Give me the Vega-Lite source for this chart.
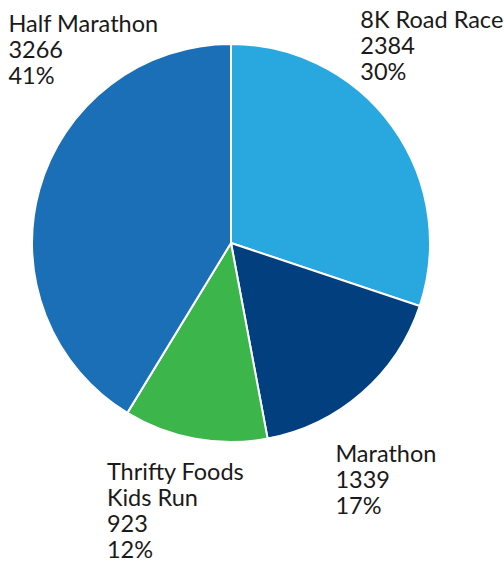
{
  "$schema": "https://vega.github.io/schema/vega-lite/v6.json",
  "width": 462,
  "height": 486,
  "autosize": "none",
  "padding": {"left": 0, "top": 0, "right": 42, "bottom": 77},
  "background": "white",
  "view": {"stroke": null},
  "data": {
    "values": [
      {"idx": 1, "name": "8K Road Race", "value": 2384, "lines": ["8K Road Race", "2384", "30%"]},
      {"idx": 2, "name": "Marathon", "value": 1339, "lines": ["Marathon", "1339", "17%"]},
      {"idx": 3, "name": "Thrifty Foods Kids Run", "value": 923, "lines": ["Thrifty Foods", "Kids Run", "923", "12%"]},
      {"idx": 4, "name": "Half Marathon", "value": 3266, "lines": ["Half Marathon", "3266", "41%"]}
    ]
  },
  "encoding": {
    "theta": {"field": "value", "type": "quantitative", "stack": true},
    "order": {"field": "idx", "type": "quantitative", "sort": "ascending"}
  },
  "layer": [
    {
      "mark": {"type": "arc", "radius": 199, "stroke": "white", "strokeWidth": 2},
      "encoding": {
        "color": {
          "field": "name",
          "type": "nominal",
          "scale": {
            "domain": ["8K Road Race", "Marathon", "Thrifty Foods Kids Run", "Half Marathon"],
            "range": ["#29a8e0", "#023f7e", "#3cb54b", "#1a6fb7"]
          },
          "legend": null
        }
      }
    },
    {
      "mark": {"type": "text", "radius": 200, "align": "left", "baseline": "alphabetic", "dx": -33, "dy": -98, "font": "Lato", "fontSize": 23.5, "lineHeight": 26, "color": "#1a1a1a"},
      "encoding": {"text": {"condition": {"test": "datum.name === '8K Road Race'", "field": "lines"}, "value": ""}}
    },
    {
      "mark": {"type": "text", "radius": 200, "align": "left", "baseline": "alphabetic", "dx": -27, "dy": 68, "font": "Lato", "fontSize": 23.5, "lineHeight": 26, "color": "#1a1a1a"},
      "encoding": {"text": {"condition": {"test": "datum.name === 'Marathon'", "field": "lines"}, "value": ""}}
    },
    {
      "mark": {"type": "text", "radius": 200, "align": "left", "baseline": "alphabetic", "dx": -88, "dy": 40, "font": "Lato", "fontSize": 23.5, "lineHeight": 26, "color": "#1a1a1a"},
      "encoding": {"text": {"condition": {"test": "datum.name === 'Thrifty Foods Kids Run'", "field": "lines"}, "value": ""}}
    },
    {
      "mark": {"type": "text", "radius": 200, "align": "left", "baseline": "alphabetic", "dx": -30, "dy": -157, "font": "Lato", "fontSize": 23.5, "lineHeight": 26, "color": "#1a1a1a"},
      "encoding": {"text": {"condition": {"test": "datum.name === 'Half Marathon'", "field": "lines"}, "value": ""}}
    }
  ]
}
